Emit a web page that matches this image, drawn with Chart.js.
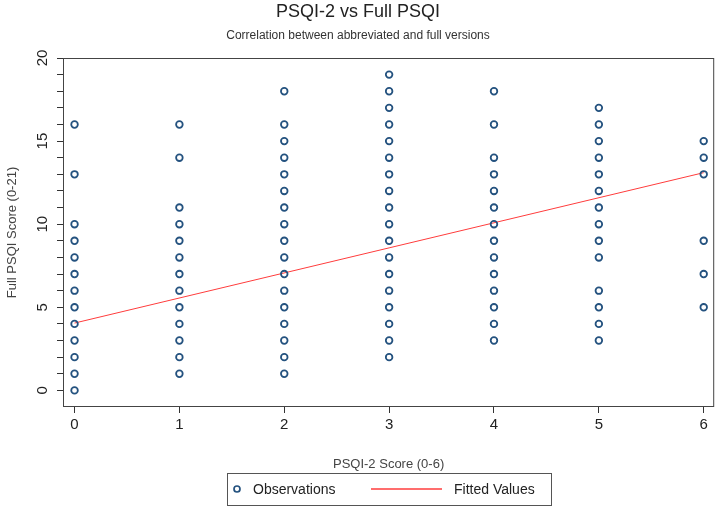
<!DOCTYPE html>
<html>
<head>
<meta charset="utf-8">
<script src="https://cdn.jsdelivr.net/npm/chart.js@4.4.0/dist/chart.umd.min.js"></script>
<style>
  html, body { margin: 0; padding: 0; background: #fff; }
</style>
</head>
<body>
<canvas id="myChart" width="720" height="511"></canvas>
<script>
// PSQI-2 score (x) and the full PSQI scores seen at each of them (y)
const psqi2Scores = [0, 1, 2, 3, 4, 5, 6]
const fullAt0 = [0, 1, 2, 3, 4, 5, 6, 7, 8, 9, 10, 13, 16]
const fullAt1 = [1, 2, 3, 4, 5, 6, 7, 8, 9, 10, 11, 14, 16]
const fullAt2 = [1, 2, 3, 4, 5, 6, 7, 8, 9, 10, 11, 12, 13, 14, 15, 16, 18]
const fullAt3 = [2, 3, 4, 5, 6, 7, 8, 9, 10, 11, 12, 13, 14, 15, 16, 17, 18, 19]
const fullAt4 = [3, 4, 5, 6, 7, 8, 9, 10, 11, 12, 13, 14, 16, 18]
const fullAt5 = [3, 4, 5, 6, 8, 9, 10, 11, 12, 13, 14, 15, 16, 17]
const fullAt6 = [5, 7, 9, 13, 14, 15]
const fullScores = [fullAt0, fullAt1, fullAt2, fullAt3, fullAt4, fullAt5, fullAt6]

// fitted regression line, read at both ends
const fitX = [0, 6]
const fitY = [4.05, 13.1]

const yTickLabels = [0, 5, 10, 15, 20]

const FONT = '"Liberation Sans", Arial, sans-serif'
const dotColor = '#24527f'
const lineColor = '#ff3c3c'

const observations = []
psqi2Scores.forEach((x, i) => {
  fullScores[i].forEach(y => observations.push({x: x, y: y}))
})
const fitted = fitX.map((x, i) => ({x: x, y: fitY[i]}))

// box round the plot, rotated y labels and the boxed legend
const framePlugin = {
  id: 'frame',
  afterDraw(chart){
    const ctx = chart.ctx
    const area = chart.chartArea
    const y = chart.scales.y
    ctx.save()
    ctx.strokeStyle = '#444'
    ctx.lineWidth = 1
    ctx.strokeRect(area.left + 0.5, area.top + 0.5, area.right - area.left - 1, area.bottom - area.top - 1)

    ctx.font = '15px ' + FONT
    ctx.fillStyle = '#222'
    ctx.textAlign = 'center'
    ctx.textBaseline = 'middle'
    yTickLabels.forEach(v => {
      ctx.save()
      ctx.translate(area.left - 20, y.getPixelForValue(v))
      ctx.rotate(-Math.PI / 2)
      ctx.fillText(String(v), 0, 0)
      ctx.restore()
    })

    // legend
    const w = 324, h = 32
    const left = Math.round((area.left + area.right) / 2 - w / 2)
    const top = 473
    const mid = top + h / 2
    ctx.strokeStyle = '#555'
    ctx.strokeRect(left + 0.5, top + 0.5, w, h)
    ctx.strokeStyle = dotColor
    ctx.lineWidth = 1.7
    ctx.beginPath()
    ctx.arc(left + 10, mid, 3, 0, Math.PI * 2)
    ctx.stroke()
    ctx.strokeStyle = lineColor
    ctx.lineWidth = 1.3
    ctx.beginPath()
    ctx.moveTo(left + 144, mid)
    ctx.lineTo(left + 215, mid)
    ctx.stroke()
    ctx.font = '14px ' + FONT
    ctx.fillStyle = '#222'
    ctx.textAlign = 'left'
    ctx.fillText('Observations', left + 26, mid + 1)
    ctx.fillText('Fitted Values', left + 227, mid + 1)
    ctx.restore()
  }
}

new Chart(document.getElementById('myChart'), {
  type: 'scatter',
  data: {
    datasets: [
      {
        label: 'Observations',
        data: observations,
        pointStyle: 'circle',
        pointRadius: 3.3,
        pointBorderWidth: 1.8,
        pointBorderColor: dotColor,
        pointBackgroundColor: 'rgba(0,0,0,0)',
        showLine: false
      },
      {
        label: 'Fitted Values',
        type: 'line',
        data: fitted,
        borderColor: lineColor,
        borderWidth: 1,
        pointRadius: 0,
        fill: false
      }
    ]
  },
  options: {
    responsive: false,
    animation: false,
    devicePixelRatio: 1,
    layout: {padding: {top: 1, left: 0, right: 4, bottom: 37}},
    plugins: {
      legend: {display: false},
      tooltip: {enabled: false},
      title: {
        display: true,
        text: 'PSQI-2 vs Full PSQI',
        color: '#222',
        font: {family: FONT, size: 18, weight: 'normal'},
        padding: {top: 0, bottom: 4}
      },
      subtitle: {
        display: true,
        text: 'Correlation between abbreviated and full versions',
        color: '#333',
        font: {family: FONT, size: 12},
        padding: {top: 2, bottom: 15}
      }
    },
    scales: {
      x: {
        type: 'linear',
        min: -0.11,
        max: 6.1,
        afterFit(scale){ scale.height = 67 },
        ticks: {stepSize: 1, includeBounds: false, padding: 3, maxRotation: 0, color: '#222', font: {family: FONT, size: 15}},
        grid: {drawOnChartArea: false, tickLength: 6, color: '#333'},
        border: {display: false},
        title: {display: true, text: 'PSQI-2 Score (0-6)', color: '#444', font: {family: FONT, size: 13}, padding: {top: 22, bottom: 2}}
      },
      y: {
        min: -1,
        max: 20,
        afterFit(scale){ scale.width = 63 },
        afterBuildTicks(scale){ scale.ticks = scale.ticks.filter(t => t.value >= 0) },
        ticks: {stepSize: 1, includeBounds: false, display: false},
        grid: {drawOnChartArea: false, tickLength: 6, color: '#333'},
        border: {display: false},
        title: {display: true, text: 'Full PSQI Score (0-21)', color: '#444', font: {family: FONT, size: 13}, padding: {top: 5, bottom: 0}}
      }
    }
  },
  plugins: [framePlugin]
})
</script>
</body>
</html>
